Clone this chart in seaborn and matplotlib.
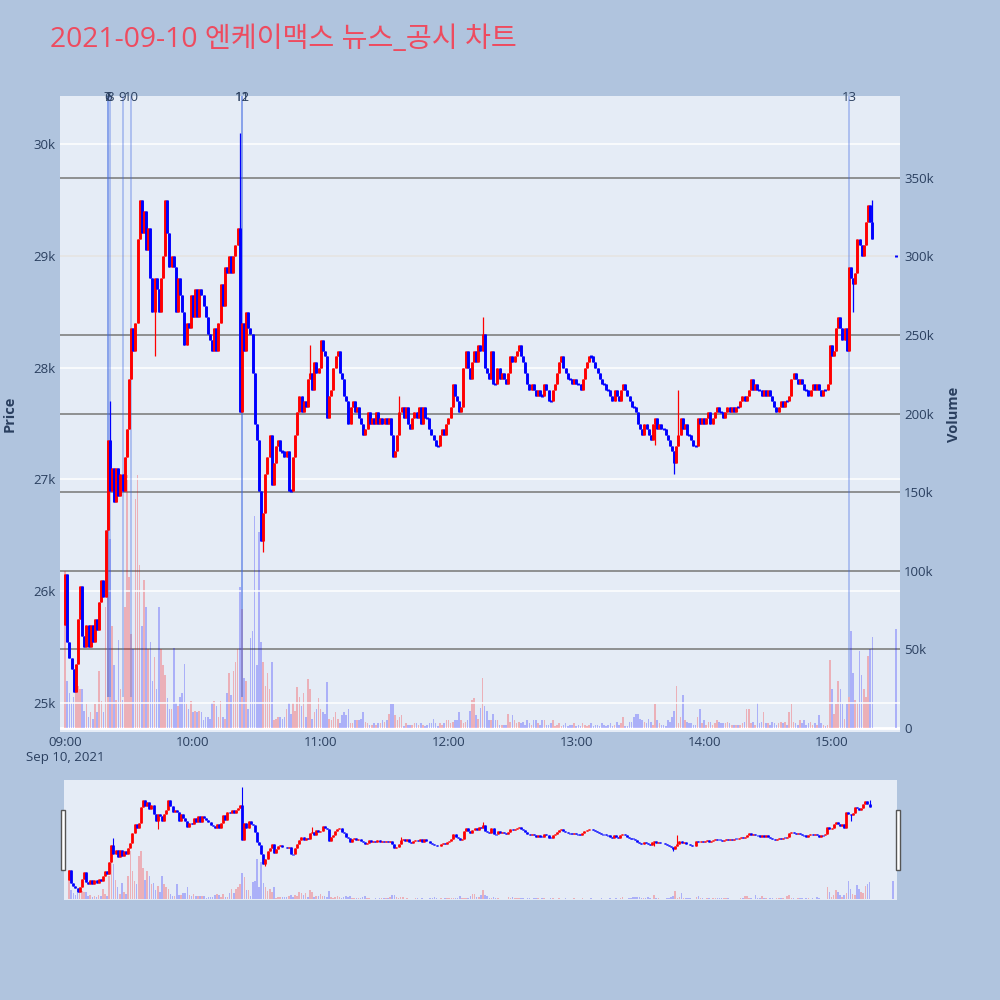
import numpy as np
import matplotlib
matplotlib.use("Agg")
import matplotlib.pyplot as plt
import seaborn as sns
from matplotlib.patches import Rectangle

sns.set_theme(style="white")
plt.rcParams['font.family'] = ['Open Sans', 'Noto Sans CJK KR', 'DejaVu Sans']

# ---- data: 1-minute candles from 09:00 (minute 0) to 15:19, plus the 15:30 close
first_open = 25700
close = [
    26150, 25550, 25400, 25300, 25100, 25350, 25750, 26050, 25600, 25500,
    25700, 25500, 25700, 25550, 25750, 25650, 25900, 26100, 25950, 26550,
    27350, 26900, 27100, 26800, 27100, 26850, 27050, 26900, 27200, 27450,
    27900, 28350, 28150, 28400, 29150, 29500, 29200, 29400, 29050, 29250,
    28800, 28500, 28800, 28700, 28500, 28800, 29000, 29500, 29200, 28900,
    29000, 28900, 28500, 28800, 28650, 28500, 28200, 28400, 28350, 28650,
    28450, 28700, 28450, 28700, 28650, 28550, 28450, 28300, 28250, 28150,
    28350, 28150, 28400, 28750, 28550, 28900, 28850, 29000, 28850, 29000,
    29100, 29250, 27600, 28400, 28150, 28500, 28350, 28300, 27950, 27500,
    27350, 26900, 26450, 26700, 27050, 27200, 27400, 26950, 27150, 27300,
    27350, 27250, 27250, 27200, 27250, 26900, 26900, 27200, 27400, 27600,
    27750, 27600, 27700, 27650, 27900, 27950, 27800, 28050, 27950, 28000,
    28250, 28150, 28100, 27550, 27750, 27800, 28000, 28100, 28150, 27950,
    27900, 27750, 27700, 27500, 27650, 27700, 27600, 27650, 27550, 27500,
    27400, 27450, 27600, 27500, 27550, 27500, 27600, 27500, 27550, 27500,
    27550, 27500, 27550, 27400, 27200, 27250, 27400, 27600, 27650, 27550,
    27650, 27500, 27450, 27550, 27600, 27550, 27650, 27500, 27650, 27550,
    27550, 27450, 27400, 27350, 27300, 27300, 27400, 27450, 27400, 27500,
    27550, 27650, 27850, 27750, 27700, 27600, 27650, 28000, 28150, 28000,
    27900, 28050, 28150, 28050, 28200, 28150, 28300, 28000, 27950, 27900,
    28150, 27850, 27850, 28000, 27900, 27950, 27900, 27850, 27950, 28100,
    28050, 28100, 28150, 28200, 28100, 28050, 27950, 27850, 27800, 27850,
    27800, 27750, 27800, 27750, 27750, 27850, 27800, 27700, 27700, 27800,
    27850, 27950, 28050, 28100, 28000, 27950, 27900, 27900, 27850, 27900,
    27850, 27850, 27800, 27900, 28000, 28050, 28100, 28100, 28050, 28000,
    27950, 27900, 27850, 27850, 27800, 27800, 27750, 27700, 27800, 27750,
    27700, 27800, 27850, 27800, 27750, 27700, 27650, 27650, 27600, 27500,
    27450, 27400, 27500, 27450, 27400, 27350, 27500, 27550, 27450, 27500,
    27450, 27450, 27400, 27350, 27300, 27250, 27150, 27300, 27400, 27550,
    27450, 27500, 27400, 27400, 27350, 27300, 27300, 27550, 27500, 27550,
    27500, 27550, 27600, 27500, 27550, 27600, 27650, 27600, 27600, 27550,
    27600, 27650, 27600, 27650, 27600, 27650, 27650, 27700, 27750, 27700,
    27750, 27800, 27900, 27800, 27850, 27800, 27800, 27750, 27800, 27750,
    27800, 27750, 27700, 27650, 27600, 27650, 27700, 27650, 27700, 27700,
    27750, 27900, 27950, 27900, 27850, 27900, 27850, 27800, 27800, 27750,
    27800, 27850, 27800, 27850, 27800, 27750, 27800, 27800, 27850, 28200,
    28100, 28150, 28350, 28450, 28350, 28250, 28350, 28150, 28900, 28800,
    28750, 28850, 29150, 29100, 29000, 29100, 29300, 29450, 29300, 29150,
]
# volume in thousands of shares
volume = [
    100, 30, 22, 16, 20, 40, 27, 25, 25, 11,
    15, 7, 10, 6, 15, 10, 36, 17, 10, 77,
    140, 120, 65, 40, 18, 56, 25, 18, 77, 161,
    96, 60, 50, 146, 161, 104, 65, 94, 77, 50,
    55, 30, 45, 25, 77, 50, 40, 34, 19, 12,
    12, 51, 16, 14, 20, 22, 41, 15, 12, 17,
    10, 11, 10, 11, 10, 5, 7, 7, 6, 16,
    17, 14, 7, 17, 7, 6, 22, 35, 21, 36,
    42, 50, 90, 76, 32, 30, 12, 57, 62, 135,
    40, 125, 55, 42, 27, 35, 25, 42, 5, 6,
    7, 7, 6, 7, 12, 16, 9, 16, 11, 26,
    20, 14, 22, 7, 31, 25, 6, 10, 12, 19,
    12, 10, 9, 29, 6, 5, 7, 10, 6, 3,
    8, 10, 8, 12, 3, 3, 5, 5, 5, 6,
    10, 4, 3, 2, 2, 3, 2, 3, 3, 5,
    4, 5, 9, 15, 15, 8, 5, 7, 8, 1,
    3, 2, 2, 2, 3, 3, 2, 3, 2, 1,
    2, 3, 3, 6, 3, 1, 3, 2, 3, 5,
    5, 3, 4, 5, 5, 10, 5, 3, 4, 5,
    11, 18, 19, 8, 6, 13, 32, 14, 11, 5,
    5, 9, 5, 5, 2, 2, 2, 2, 9, 4,
    8, 5, 3, 4, 3, 4, 2, 5, 3, 2,
    5, 5, 3, 2, 5, 5, 2, 2, 3, 5,
    1, 2, 3, 1, 2, 3, 1, 2, 2, 3,
    1, 2, 1, 3, 2, 1, 2, 3, 1, 2,
    2, 1, 3, 2, 1, 2, 3, 1, 2, 4,
    2, 3, 7, 1, 1, 4, 4, 7, 9, 9,
    6, 5, 4, 3, 6, 4, 2, 15, 5, 3,
    2, 2, 1, 5, 4, 7, 11, 27, 3, 7,
    21, 5, 4, 3, 3, 2, 2, 7, 12, 3,
    5, 2, 4, 4, 2, 3, 5, 4, 3, 3,
    3, 4, 3, 2, 2, 2, 2, 2, 3, 4,
    12, 12, 3, 4, 2, 16, 3, 4, 10, 3,
    3, 2, 4, 3, 2, 3, 4, 3, 4, 2,
    10, 15, 4, 3, 2, 5, 3, 5, 2, 3,
    4, 2, 3, 2, 8, 3, 2, 1, 2, 43,
    25, 9, 15, 30, 25, 15, 6, 15, 20, 62,
    35, 18, 16, 49, 34, 25, 20, 46, 50, 58,
]
auction_minute = 390
auction_price = 29000
auction_volume = 63
wick_high = {21: 27700, 82: 30100, 115: 28200, 157: 27750, 196: 28450, 288: 27800, 379: 29500}
wick_low = {42: 28100, 93: 26350, 277: 27310, 286: 27050, 370: 28500}

news_minutes = [20, 20, 21, 27, 31, 83, 83, 368]
news_labels = ["6", "7", "8", "9", "10", "11", "12", "13"]

hour_ticks = [0, 60, 120, 180, 240, 300, 360]
hour_labels = ["09:00\nSep 10, 2021", "10:00", "11:00", "12:00", "13:00", "14:00", "15:00"]
price_ticks = [25000, 26000, 27000, 28000, 29000, 30000]
price_labels = ["25k", "26k", "27k", "28k", "29k", "30k"]
vol_ticks = [0, 50, 100, 150, 200, 250, 300, 350]
vol_labels = ["0", "50k", "100k", "150k", "200k", "250k", "300k", "350k"]

# ---- assemble OHLC
minutes = np.append(np.arange(len(close)), auction_minute)
c = np.array(close + [auction_price], dtype=float)
o = np.array([first_open] + close[:-1] + [auction_price], dtype=float)
h = np.maximum(o, c)
l = np.minimum(o, c)
for k, v in wick_high.items():
    h[k] = max(h[k], v)
for k, v in wick_low.items():
    l[k] = min(l[k], v)
vol = np.array(volume + [auction_volume], dtype=float) * 1000
up = c > o
colors = np.where(up, "#FF0000", "#0000FF")

body_lo = np.where(o == c, c - 10, np.minimum(o, c))
body_hi = np.where(o == c, c + 10, np.maximum(o, c))

BG = "#B0C4DE"
PLOT_BG = "#E5ECF6"
TXT = "#2a3f5f"
xlim = (-2.4, 392)
ylim_price = (24741, 30429)
ylim_vol = (-2500, 402000)

fig = plt.figure(figsize=(10, 10), dpi=100, facecolor=BG)


def draw_panel(rect, body_lw, wick_lw):
    ax_v = fig.add_axes(rect)
    ax_p = fig.add_axes(rect)
    ax_v.set_facecolor(PLOT_BG)
    ax_p.patch.set_visible(False)
    for a in (ax_v, ax_p):
        a.set_xlim(*xlim)
        for s in a.spines.values():
            s.set_visible(False)
    ax_v.set_ylim(*ylim_vol)
    ax_p.set_ylim(*ylim_price)
    ax_v.bar(minutes, vol, width=0.75, color=colors, alpha=0.25, linewidth=0)
    ax_p.vlines(minutes, l, h, colors=colors, linewidth=wick_lw, zorder=3)
    ax_p.vlines(minutes, body_lo, body_hi, colors=colors, linewidth=body_lw, zorder=4)
    return ax_v, ax_p


# ---- main chart
rect = [0.06, 0.268, 0.84, 0.636]
ax_v, ax_p = draw_panel(rect, 2.1, 0.9)

ax_v.axhline(0, color="white", lw=2, zorder=0)
for t in vol_ticks[1:]:
    ax_v.axhline(t * 1000, color="#808080", lw=1.2, zorder=0)
for t in price_ticks:
    ax_p.axhline(t, color="white", lw=1.1, zorder=0)

ax_p.set_yticks(price_ticks)
ax_p.set_yticklabels(price_labels)
ax_p.tick_params(axis="y", length=0, pad=3, labelsize=9.5, labelcolor=TXT)
ax_v.yaxis.tick_right()
ax_v.set_yticks([t * 1000 for t in vol_ticks])
ax_v.set_yticklabels(vol_labels)
ax_v.tick_params(axis="y", length=0, pad=3, labelsize=9.5, labelcolor=TXT)
ax_p.set_xticks(hour_ticks)
ax_p.set_xticklabels(hour_labels, linespacing=1.2)
ax_p.tick_params(axis="x", length=0, pad=3, labelsize=9.5, labelcolor=TXT)
ax_v.set_xticks([])

# news markers (labels 6/7/8 and 11/12 overlap, as in the source chart)
for mnt, lab in zip(news_minutes, news_labels):
    ax_p.vlines(mnt, 25050, ylim_price[1], colors="#4169E1", alpha=0.4, lw=1.2, zorder=2)
    ax_p.annotate(lab, xy=(mnt, 1.0), xycoords=("data", "axes fraction"),
                  xytext=(0, -1), textcoords="offset points",
                  ha="center", va="center", fontsize=9.5, color=TXT, zorder=6)

# ---- range slider
srect = [0.064, 0.1, 0.833, 0.12]
sv, sp = draw_panel(srect, 2.0, 0.8)
for a in (sv, sp):
    a.set_xticks([])
    a.set_yticks([])
for x0 in (0.0613, 0.8955):
    fig.add_artist(Rectangle((x0, 0.13), 0.004, 0.06, transform=fig.transFigure,
                             facecolor="white", edgecolor="#555555", lw=1))

# ---- text
fig.text(0.05, 0.96, "2021-09-10 엔케이맥스 뉴스_공시 차트", fontsize=20.3,
         color="#EE4B5F", ha="left", va="center")
fig.text(0.010, 0.586, "Price", rotation=90, ha="center", va="center",
         fontsize=10.5, color=TXT, fontweight="bold")
fig.text(0.954, 0.586, "Volume", rotation=90, ha="center", va="center",
         fontsize=10.5, color=TXT, fontweight="bold")

fig.savefig("out.png", dpi=100, facecolor=BG)
